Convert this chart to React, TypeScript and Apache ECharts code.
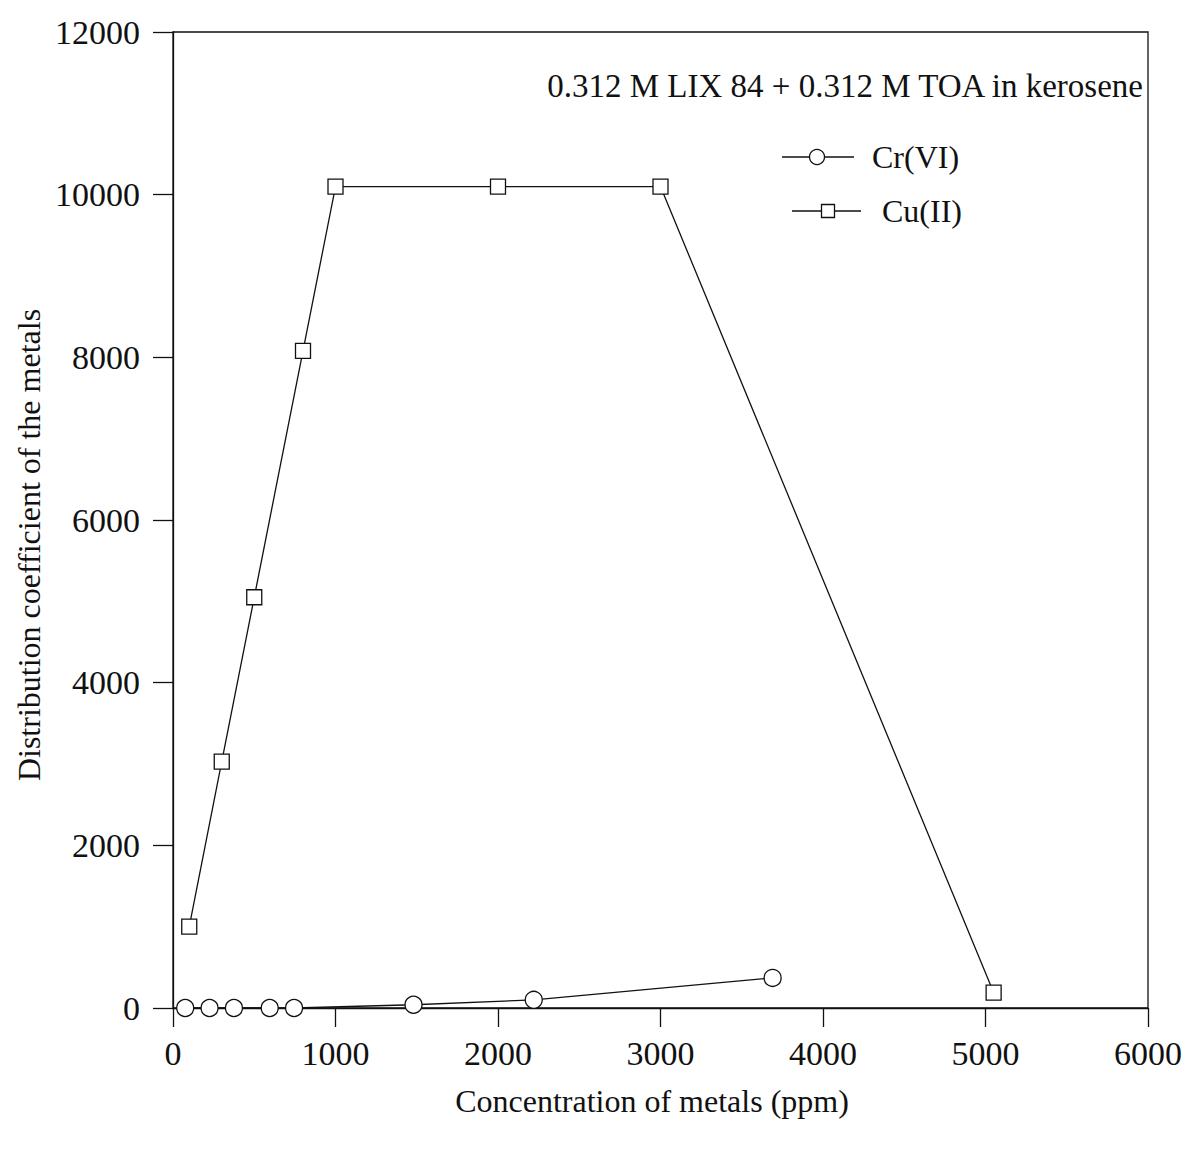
import React, { useEffect, useRef } from "react";
import * as echarts from "echarts";

const cuX = [100, 300, 500, 800, 1000, 2000, 3000, 5050];
const cuY = [1000, 3030, 5050, 8080, 10100, 10100, 10100, 190];
const crX = [75, 225, 375, 595, 745, 1480, 2220, 3690];
const crY = [0, 0, 0, 0, 0, 40, 100, 370];

const xTicks = [0, 1000, 2000, 3000, 4000, 5000, 6000];
const yTicks = [0, 2000, 4000, 6000, 8000, 10000, 12000];

const annotation = "0.312 M LIX 84 + 0.312 M TOA in kerosene";
const xTitle = "Concentration of metals (ppm)";
const yTitle = "Distribution coefficient of the metals";
const seriesNames = ["Cr(VI)", "Cu(II)"];

const FONT = "Liberation Serif";
const INK = "#111";

export default function App() {
  const ref = useRef<HTMLDivElement>(null);
  useEffect(() => {
    if (!ref.current) return;
    const chart = echarts.init(ref.current, null, { renderer: "svg" });
    const lineStyle = { color: INK, width: 1.3 };
    chart.setOption({
      animation: false,
      backgroundColor: "#fff",
      grid: {
        left: 173,
        right: 41,
        top: 32,
        bottom: 141,
        show: true,
        borderColor: INK,
        borderWidth: 1.3,
      },
      xAxis: {
        type: "value",
        min: xTicks[0],
        max: xTicks[xTicks.length - 1],
        interval: 1000,
        axisLine: { show: true, onZero: false, lineStyle },
        axisTick: { show: true, inside: false, length: 19, lineStyle },
        axisLabel: {
          fontFamily: FONT,
          fontSize: 34,
          color: INK,
          margin: 28,
          formatter: (v: number) => String(v),
        },
        splitLine: { show: false },
      },
      yAxis: {
        type: "value",
        min: yTicks[0],
        max: yTicks[yTicks.length - 1],
        interval: 2000,
        axisLine: { show: true, onZero: false, lineStyle },
        axisTick: { show: true, inside: false, length: 20, lineStyle },
        axisLabel: {
          fontFamily: FONT,
          fontSize: 34,
          color: INK,
          margin: 33,
          formatter: (v: number) => String(v),
        },
        splitLine: { show: false },
      },
      series: [
        {
          name: seriesNames[0],
          type: "line",
          data: crX.map((x, i) => [x, crY[i]]),
          symbol: "circle",
          symbolSize: 17,
          lineStyle: { color: INK, width: 1.3 },
          itemStyle: { color: "#fff", borderColor: INK, borderWidth: 1.3 },
          z: 3,
        },
        {
          name: seriesNames[1],
          type: "line",
          data: cuX.map((x, i) => [x, cuY[i]]),
          symbol: "rect",
          symbolSize: 15,
          lineStyle: { color: INK, width: 1.3 },
          itemStyle: { color: "#fff", borderColor: INK, borderWidth: 1.3 },
          z: 3,
        },
      ],
      graphic: [
        {
          type: "text",
          x: 1143,
          y: 86,
          style: {
            text: annotation,
            fontFamily: FONT,
            fontSize: 33,
            fill: INK,
            textAlign: "right",
            verticalAlign: "middle",
          },
        },
        {
          type: "text",
          x: 652,
          y: 1101,
          style: {
            text: xTitle,
            fontFamily: FONT,
            fontSize: 32,
            fill: INK,
            textAlign: "center",
            verticalAlign: "middle",
          },
        },
        {
          type: "text",
          x: 29,
          y: 545,
          rotation: Math.PI / 2,
          style: {
            text: yTitle,
            fontFamily: FONT,
            fontSize: 32,
            fill: INK,
            textAlign: "center",
            verticalAlign: "middle",
          },
        },
        { type: "line", shape: { x1: 782, y1: 157, x2: 854, y2: 157 }, style: { stroke: INK, lineWidth: 1.3 } },
        { type: "circle", shape: { cx: 817, cy: 157, r: 7.5 }, style: { fill: "#fff", stroke: INK, lineWidth: 1.3 } },
        {
          type: "text",
          x: 872,
          y: 157,
          style: { text: seriesNames[0], fontFamily: FONT, fontSize: 32, fill: INK, verticalAlign: "middle" },
        },
        { type: "line", shape: { x1: 792, y1: 211, x2: 861, y2: 211 }, style: { stroke: INK, lineWidth: 1.3 } },
        { type: "rect", shape: { x: 821.5, y: 204.5, width: 13, height: 13 }, style: { fill: "#fff", stroke: INK, lineWidth: 1.3 } },
        {
          type: "text",
          x: 882,
          y: 211,
          style: { text: seriesNames[1], fontFamily: FONT, fontSize: 32, fill: INK, verticalAlign: "middle" },
        },
      ],
    });
    return () => chart.dispose();
  }, []);
  return (
    <div
      ref={ref}
      style={{ position: "absolute", left: 0, top: 0, width: 1189, height: 1149 }}
    />
  );
}
